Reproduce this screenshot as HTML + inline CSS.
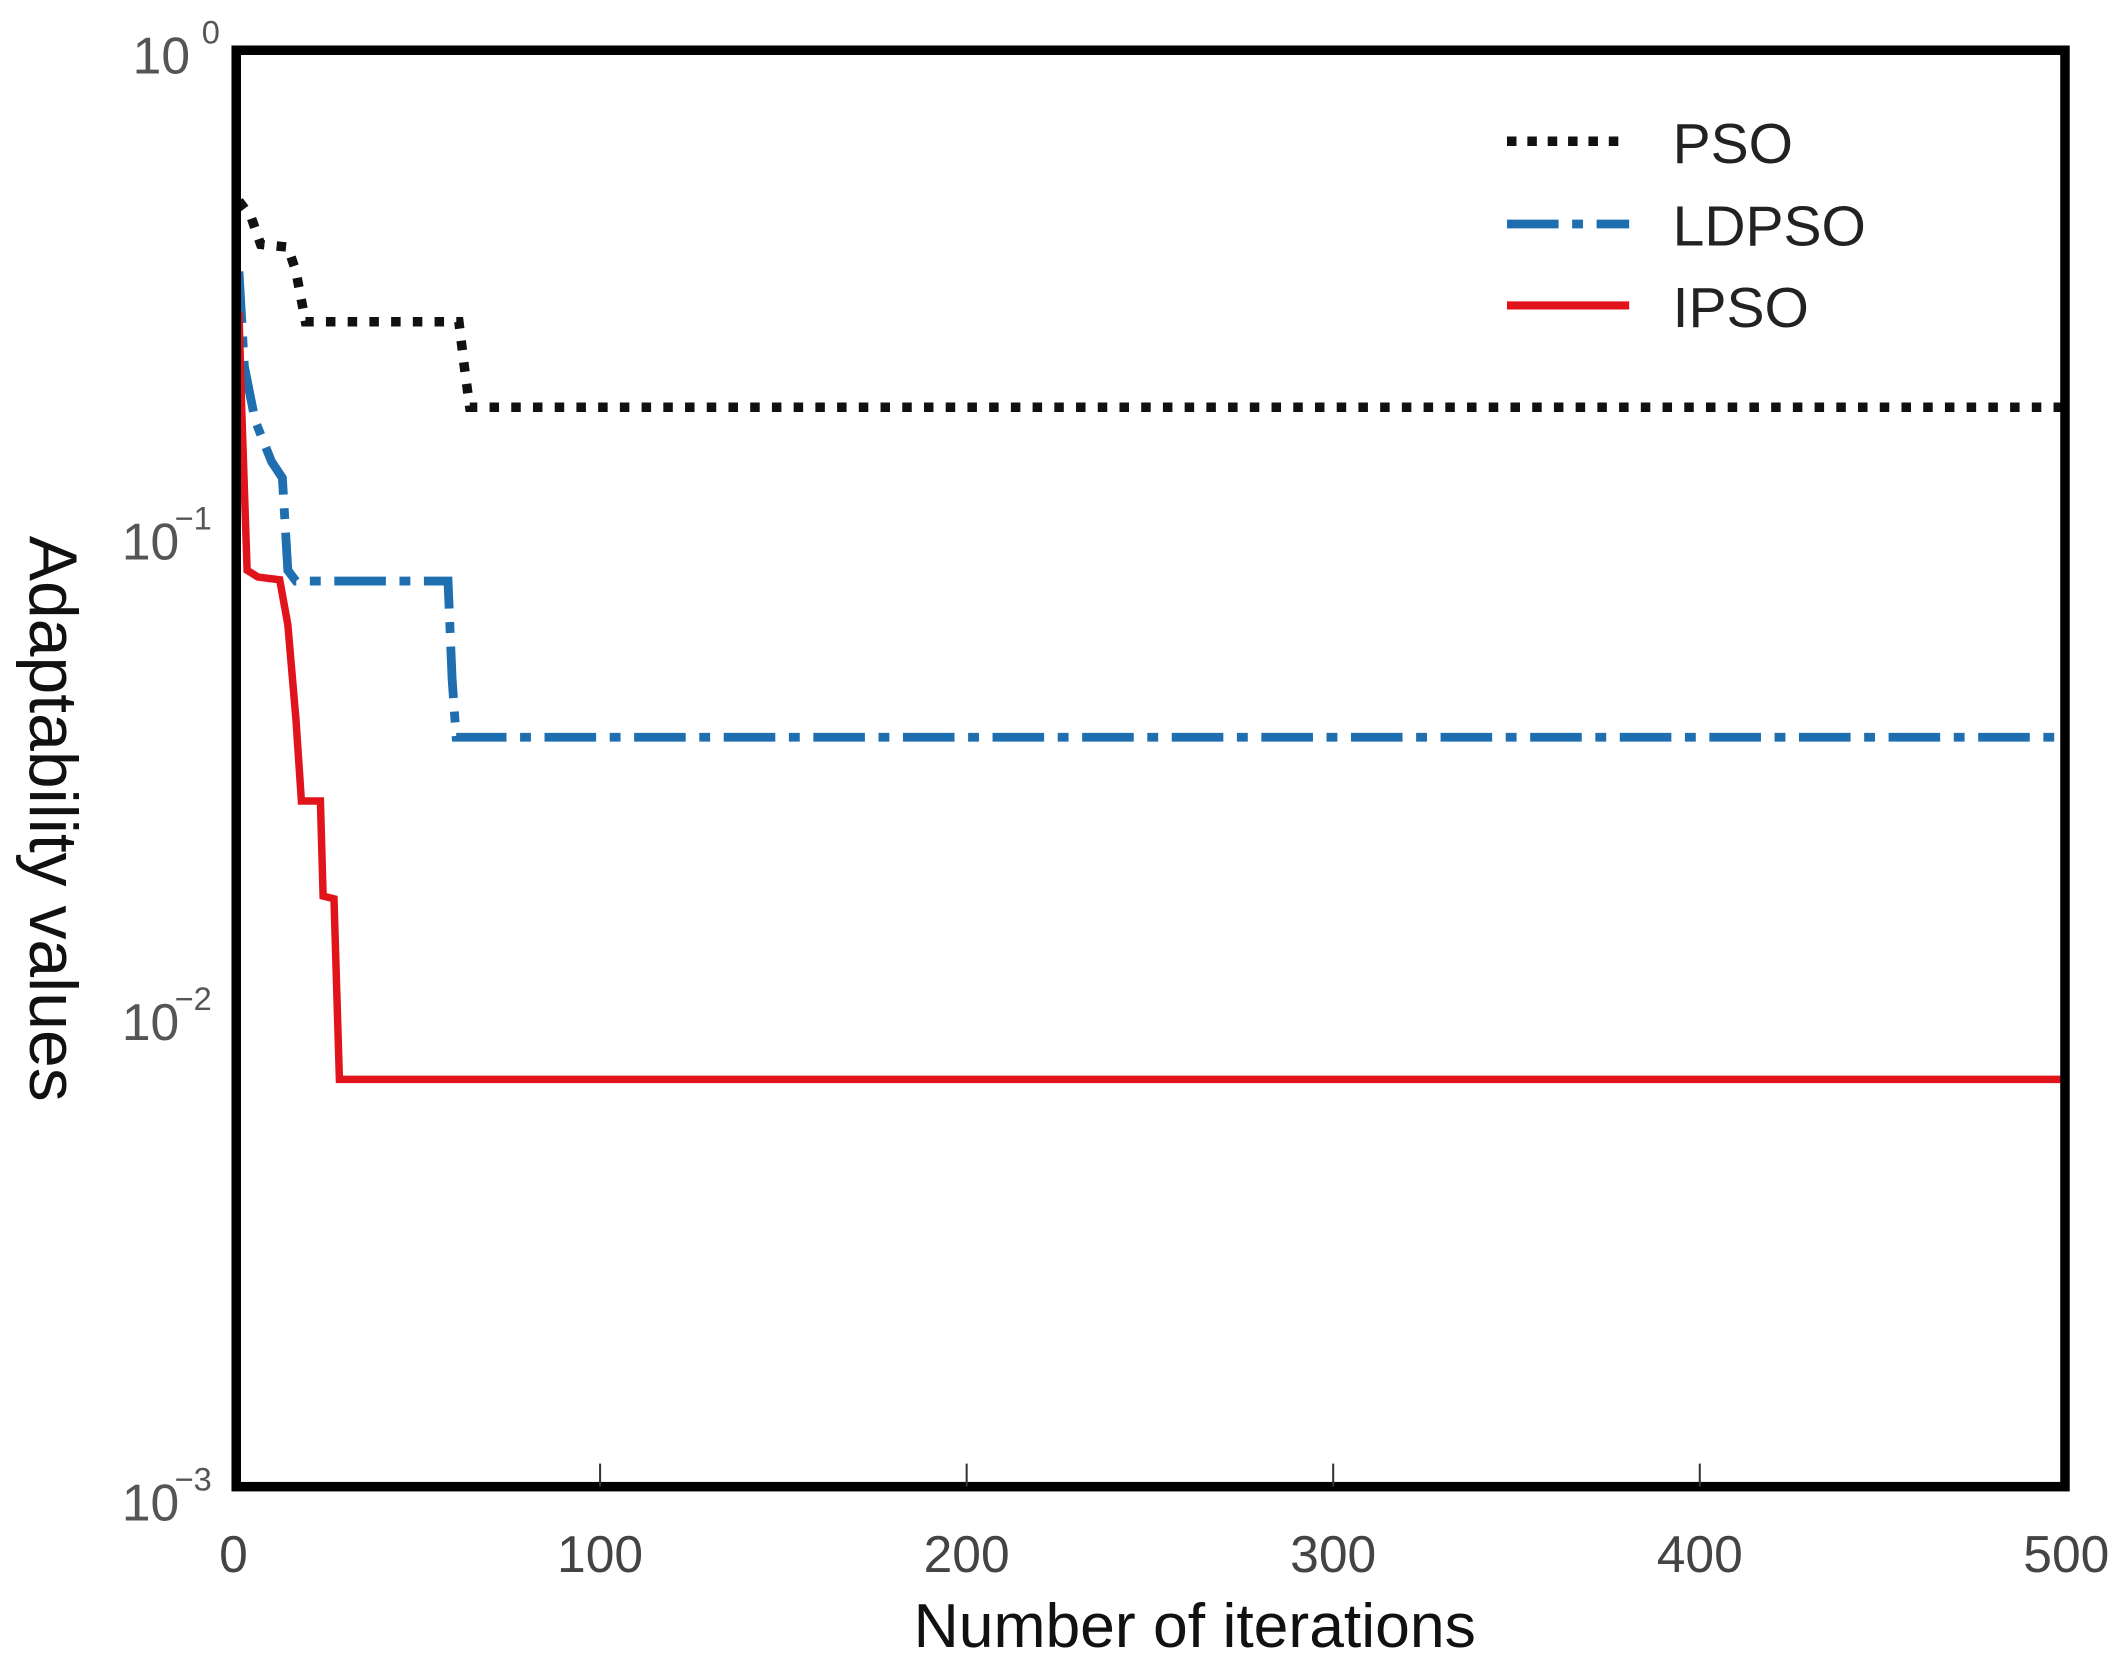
<!DOCTYPE html>
<html><head><meta charset="utf-8"><style>
html,body{margin:0;padding:0;background:#fff;}
svg{display:block;}
text{font-family:"Liberation Sans",sans-serif;}
</style></head><body>
<svg width="2122" height="1661" viewBox="0 0 1563 1223.4" preserveAspectRatio="none" xmlns="http://www.w3.org/2000/svg">
<rect width="1563" height="1223.4" fill="#fff"/>
<polyline fill="none" stroke="#111" stroke-width="7" stroke-dasharray="7,9" points="176,148 185,160 192,180 212,182 218,200 225,237 338,237 342,270 346,300 1520,300"/>
<polyline fill="none" stroke="#1f6fb0" stroke-width="6.5" stroke-dasharray="38,10,8,10" points="176,200 180,270 188,310 200,340 208,352 212,420 218,428 330,428 333,500 336,543 1520,543"/>
<polyline fill="none" stroke="#e0141a" stroke-width="5.5" points="176,230 178,300 180,360 182,420 190,425 206,427 212,460 218,530 222,590 236,590 238,660 246,662 250,795 1520,795"/>
<rect x="174" y="37" width="1347" height="1058" fill="none" stroke="#000" stroke-width="7"/>
<g stroke="#333" stroke-width="1.5">
<line x1="442" y1="1095" x2="442" y2="1078"/><line x1="712" y1="1095" x2="712" y2="1078"/>
<line x1="982" y1="1095" x2="982" y2="1078"/><line x1="1252" y1="1095" x2="1252" y2="1078"/>
</g>
<g fill="#444" font-size="38" text-anchor="middle">
<text x="172" y="1158">0</text><text x="442" y="1158">100</text><text x="712" y="1158">200</text>
<text x="982" y="1158">300</text><text x="1252" y="1158">400</text><text x="1522" y="1158">500</text>
</g>
<g fill="#555" font-size="38" text-anchor="end">
<text x="140" y="54">10</text><text x="162" y="32" font-size="24">0</text>
<text x="132" y="412">10</text><text x="156" y="390" font-size="24">−1</text>
<text x="132" y="766">10</text><text x="156" y="744" font-size="24">−2</text>
<text x="132" y="1120">10</text><text x="156" y="1098" font-size="24">−3</text>
</g>
<text x="880" y="1213" font-size="46" fill="#111" text-anchor="middle">Number of iterations</text>
<text transform="translate(22,603) rotate(90)" font-size="50" fill="#111" text-anchor="middle">Adaptability values</text>
<line x1="1110" y1="104" x2="1200" y2="104" stroke="#111" stroke-width="7" stroke-dasharray="7,8"/>
<line x1="1110" y1="165" x2="1200" y2="165" stroke="#1f6fb0" stroke-width="6.5" stroke-dasharray="38,10,8,10"/>
<line x1="1110" y1="225" x2="1200" y2="225" stroke="#e0141a" stroke-width="6"/>
<g font-size="42" fill="#222">
<text x="1232" y="120">PSO</text><text x="1232" y="181">LDPSO</text><text x="1232" y="241">IPSO</text>
</g>
</svg>
</body></html>
